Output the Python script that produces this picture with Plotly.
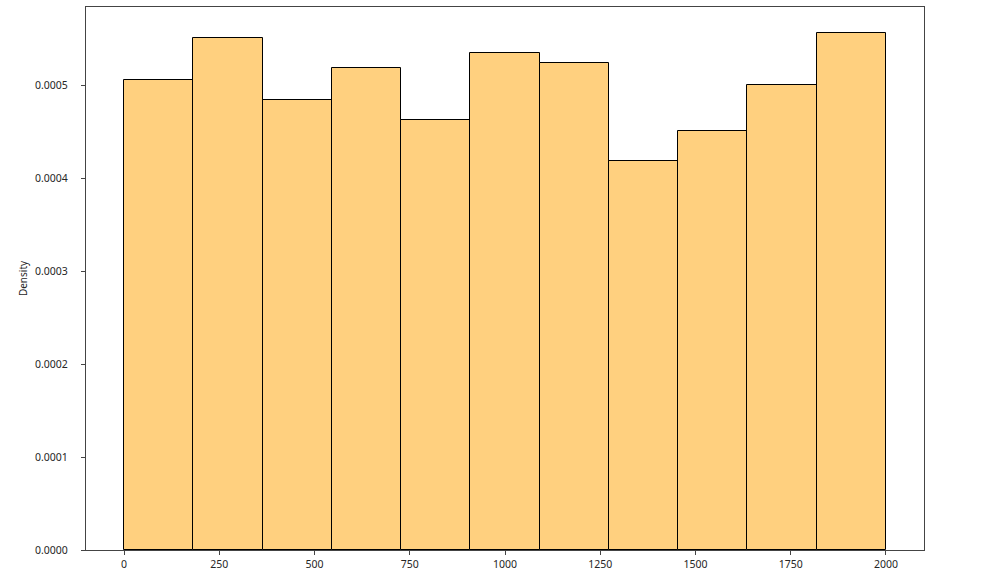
import plotly.graph_objects as go

bin_edges = [0, 181.82, 363.64, 545.45, 727.27, 909.09, 1090.91, 1272.73, 1454.55, 1636.36, 1818.18, 2000]
density = [0.0005054, 0.0005505, 0.0004839, 0.0005183, 0.0004624, 0.0005344,
           0.0005237, 0.0004183, 0.0004505, 0.0005000, 0.0005559]
x_ticks = [0, 250, 500, 750, 1000, 1250, 1500, 1750, 2000]
y_ticks = [0, 0.0001, 0.0002, 0.0003, 0.0004, 0.0005]

centers = [(a + b) / 2 for a, b in zip(bin_edges[:-1], bin_edges[1:])]
widths = [b - a for a, b in zip(bin_edges[:-1], bin_edges[1:])]

fig = go.Figure(go.Bar(
    x=centers, y=density, width=widths,
    marker=dict(color="#FFD07F", line=dict(color="black", width=1)),
))

font = dict(family="Noto Sans, DejaVu Sans, sans-serif", size=10.5, color="#262626")
title_font = dict(family="Noto Sans, DejaVu Sans, sans-serif", size=10, color="#262626")
fig.update_layout(
    width=985, height=577,
    margin=dict(l=86, r=61, t=7, b=27, autoexpand=False),
    paper_bgcolor="white", plot_bgcolor="white",
    showlegend=False, bargap=0,
    font=font,
)
fig.update_xaxes(
    range=[-100, 2100], tickvals=x_ticks, ticktext=[str(v) for v in x_ticks],
    showgrid=False, zeroline=False, showline=True, mirror=True, linecolor="#444", linewidth=1,
    ticks="outside", ticklen=4, tickcolor="#444", tickfont=font,
)
fig.update_yaxes(
    range=[0, 0.0005839], tickvals=y_ticks, ticktext=[f"{v:.4f}" for v in y_ticks],
    showgrid=False, zeroline=False, showline=True, mirror=True, linecolor="#444", linewidth=1,
    ticks="outside", ticklen=4, tickcolor="#444", tickfont=font, ticklabelstandoff=11,
    title=dict(text="Density", font=title_font, standoff=5),
)
fig.write_html("out.html", config={"displayModeBar": False},
               post_script="document.body.style.margin='0';")
